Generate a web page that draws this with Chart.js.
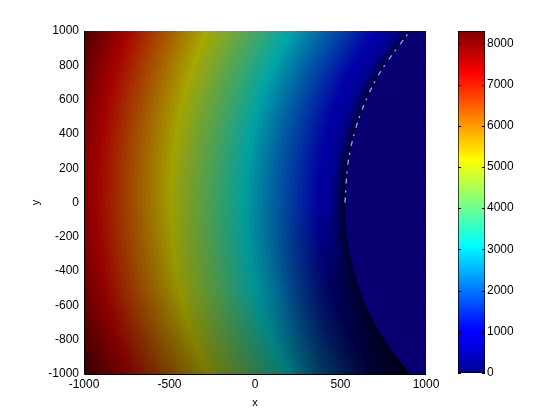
<!DOCTYPE html>
<html>
<head>
<meta charset="utf-8">
<script src="https://cdn.jsdelivr.net/npm/chart.js@4.4.1/dist/chart.umd.min.js"></script>
<style>
body { margin: 0; background: #fff; }
#wrap { position: relative; width: 560px; height: 420px; }
#main { position: absolute; left: 0; top: 0; }
#cbar { position: absolute; left: 440px; top: 0; }
</style>
</head>
<body>
<div id="wrap">
<canvas id="main" width="560" height="420"></canvas>
<canvas id="cbar" width="120" height="420"></canvas>
</div>
<script>
const sampleY = [-1000, -750, -500, -250, 0, 250, 500, 750, 1000];
// contour levels (value on the left of each line is above the level)
const levels = [300, 400, 500, 625, 750, 875, 1000, 1125, 1250, 1375, 1500, 1625, 1750, 1875,
    2000, 2125, 2250, 2375, 2500, 2625, 2750, 2875, 3000, 3125, 3250, 3375, 3500, 3625, 3750,
    3875, 4000, 4125, 4250, 4375, 4500, 4625, 4750, 4875, 5000, 5125, 5250, 5375, 5500, 5625,
    5750, 5875, 6000, 6125, 6250, 6375, 6500, 6625, 6750, 6875, 7000, 7125, 7250, 7375, 7500,
    7625, 7750, 7875, 8000, 8125, 8250];
// x of each contour at sampleY
const isoX = [
    [906, 726, 611, 547, 526, 547, 611, 726, 906],
    [878, 702, 589, 526, 505, 526, 589, 702, 878],
    [851, 678, 567, 505, 484, 505, 567, 678, 851],
    [817, 649, 540, 479, 458, 479, 540, 649, 817],
    [783, 619, 512, 452, 432, 452, 512, 619, 783],
    [750, 590, 485, 426, 406, 426, 485, 590, 750],
    [717, 560, 458, 399, 380, 399, 458, 560, 717],
    [685, 531, 431, 373, 354, 373, 431, 531, 685],
    [652, 502, 403, 347, 328, 347, 403, 502, 652],
    [621, 473, 376, 321, 302, 321, 376, 473, 621],
    [589, 444, 349, 294, 276, 294, 349, 444, 589],
    [558, 416, 322, 268, 250, 268, 322, 416, 558],
    [526, 387, 294, 241, 224, 241, 294, 387, 526],
    [495, 359, 267, 215, 198, 215, 267, 359, 495],
    [464, 330, 240, 189, 172, 189, 240, 330, 464],
    [433, 302, 213, 163, 146, 163, 213, 302, 433],
    [402, 273, 186, 136, 120, 136, 186, 273, 402],
    [372, 245, 159, 110, 94, 110, 159, 245, 372],
    [341, 217, 132, 84, 68, 84, 132, 217, 341],
    [311, 189, 106, 58, 42, 58, 106, 189, 311],
    [281, 160, 79, 31, 16, 31, 79, 160, 281],
    [251, 132, 52, 5, -10, 5, 52, 132, 251],
    [221, 104, 25, -21, -37, -21, 25, 104, 221],
    [192, 77, -2, -48, -63, -48, -2, 77, 192],
    [162, 49, -29, -74, -89, -74, -29, 49, 162],
    [133, 21, -56, -100, -115, -100, -56, 21, 133],
    [103, -7, -82, -126, -141, -126, -82, -7, 103],
    [74, -35, -109, -153, -167, -153, -109, -35, 74],
    [45, -63, -136, -179, -193, -179, -136, -63, 45],
    [16, -91, -163, -205, -219, -205, -163, -91, 16],
    [-13, -118, -189, -231, -245, -231, -189, -118, -13],
    [-42, -146, -216, -257, -271, -257, -216, -146, -42],
    [-71, -173, -243, -283, -297, -283, -243, -173, -71],
    [-100, -201, -270, -310, -323, -310, -270, -201, -100],
    [-129, -228, -296, -336, -349, -336, -296, -228, -129],
    [-158, -256, -323, -362, -375, -362, -323, -256, -158],
    [-186, -283, -349, -388, -401, -388, -349, -283, -186],
    [-215, -310, -376, -415, -427, -415, -376, -310, -215],
    [-243, -337, -402, -441, -453, -441, -402, -337, -243],
    [-272, -365, -429, -467, -479, -467, -429, -365, -272],
    [-300, -392, -456, -493, -505, -493, -456, -392, -300],
    [-328, -419, -483, -519, -531, -519, -483, -419, -328],
    [-356, -446, -509, -545, -557, -545, -509, -446, -356],
    [-385, -474, -536, -572, -583, -572, -536, -474, -385],
    [-413, -501, -562, -598, -609, -598, -562, -501, -413],
    [-441, -528, -589, -624, -636, -624, -589, -528, -441],
    [-469, -555, -615, -650, -662, -650, -615, -555, -469],
    [-497, -582, -642, -676, -688, -676, -642, -582, -497],
    [-525, -609, -668, -702, -714, -702, -668, -609, -525],
    [-553, -636, -695, -729, -740, -729, -695, -636, -553],
    [-581, -663, -721, -755, -766, -755, -721, -663, -581],
    [-609, -690, -748, -781, -792, -781, -748, -690, -609],
    [-637, -717, -774, -807, -818, -807, -774, -717, -637],
    [-665, -744, -800, -833, -844, -833, -800, -744, -665],
    [-692, -771, -826, -859, -870, -859, -826, -771, -692],
    [-720, -798, -853, -885, -896, -885, -853, -798, -720],
    [-748, -825, -879, -911, -922, -911, -879, -825, -748],
    [-776, -852, -906, -938, -948, -938, -906, -852, -776],
    [-803, -879, -932, -964, -974, -964, -932, -879, -803],
    [-831, -906, -959, -990, -1000, -990, -959, -906, -831],
    [-858, -933, -985, -1016, -1026, -1016, -985, -933, -858],
    [-886, -960, -1012, -1042, -1052, -1042, -1012, -960, -886],
    [-913, -986, -1038, -1068, -1078, -1068, -1038, -986, -913],
    [-941, -1013, -1065, -1094, -1104, -1094, -1065, -1013, -941],
    [-968, -1040, -1091, -1120, -1130, -1120, -1091, -1040, -968]
];
// light glitch line along the edge of the zero region (upper half only)
const edgeY = [0, 250, 500, 750, 1000];
const edgeX = [526, 547, 611, 726, 906];
const cbMax = 8300;
const cbTickValues = [0, 1000, 2000, 3000, 4000, 5000, 6000, 7000, 8000];

Chart.defaults.font.family = "'Liberation Sans', Arial, sans-serif";
Chart.defaults.font.size = 12;
Chart.defaults.color = "#000";

function jet(t) {
    t = Math.max(0, Math.min(1, t));
    const c = v => Math.max(0, Math.min(1, v));
    return [c(Math.min(4 * t - 1.5, -4 * t + 4.5)),
        c(Math.min(4 * t - 0.5, -4 * t + 3.5)),
        c(Math.min(4 * t + 0.5625, -4 * t + 2.5))];
}
function rgb(c, f) {
    return `rgb(${Math.round(c[0] * 255 * f)},${Math.round(c[1] * 255 * f)},${Math.round(c[2] * 255 * f)})`;
}

// the surface is lit from above: darker toward the bottom and close to the zero edge
const fillCache = {};
function bandFill(chart, mid) {
    const a = chart.chartArea;
    if (!a) return null;
    const key = mid + "_" + a.top + "_" + a.bottom;
    if (fillCache[key]) return fillCache[key];
    const col = jet(mid / cbMax);
    const e = mid - levels[0];
    const fTop = 0.66 * (0.6 + 0.4 * Math.min(1, e / 240));
    const fMid = 0.62 * (0.4 + 0.6 * Math.min(1, e / 340));
    const fLow = 0.25 + 0.33 * Math.min(1, e / 2160);
    const fBot = Math.min(0.47, 0.1 + 0.000135 * e);
    const g = chart.ctx.createLinearGradient(0, a.top, 0, a.bottom);
    g.addColorStop(0, rgb(col, fTop));
    g.addColorStop(0.5, rgb(col, fMid));
    g.addColorStop(0.75, rgb(col, fLow));
    g.addColorStop(1, rgb(col, fBot));
    fillCache[key] = g;
    return g;
}

const datasets = [{
    data: edgeY.map((y, k) => ({ x: edgeX[k], y: y })),
    borderColor: "rgba(205,205,255,0.8)",
    borderWidth: 1.3,
    borderDash: [5, 5, 2, 7],
    fill: false,
    pointRadius: 0
}];
for (let i = levels.length - 1; i >= 0; i--) {
    const hi = i + 1 < levels.length ? levels[i + 1] : cbMax;
    const mid = (levels[i] + hi) / 2;
    datasets.push({
        data: sampleY.map((y, k) => ({ x: isoX[i][k], y: y })),
        fill: { value: -1000 },
        backgroundColor: ctx => bandFill(ctx.chart, mid),
        borderColor: "rgba(0,0,0,0)",
        borderWidth: 0,
        pointRadius: 0
    });
}

const framePlugin = {
    id: "frame",
    beforeDraw(chart) {
        const { ctx, chartArea: a } = chart;
        ctx.save();
        ctx.fillStyle = "rgb(8,0,112)";
        ctx.fillRect(a.left, a.top, a.right - a.left, a.bottom - a.top);
        ctx.restore();
    },
    afterDatasetsDraw(chart) {
        const { ctx, chartArea: a } = chart;
        ctx.save();
        ctx.strokeStyle = "#000";
        ctx.lineWidth = 1;
        ctx.beginPath();
        ctx.moveTo(a.left + 0.5, a.top);
        ctx.lineTo(a.left + 0.5, a.bottom + 0.5);
        ctx.lineTo(a.right, a.bottom + 0.5);
        ctx.stroke();
        ctx.setLineDash([1, 2]);
        ctx.beginPath();
        ctx.moveTo(a.right - 0.5, a.top);
        ctx.lineTo(a.right - 0.5, a.bottom);
        ctx.stroke();
        ctx.restore();
    }
};

new Chart(document.getElementById("main"), {
    type: "line",
    data: { datasets: datasets },
    options: {
        indexAxis: "y",
        responsive: false,
        animation: false,
        events: [],
        layout: { padding: { left: 0, right: 134, top: 31, bottom: 0 } },
        elements: { line: { cubicInterpolationMode: "monotone", capBezierPoints: false } },
        scales: {
            x: {
                type: "linear", min: -1000, max: 1000,
                ticks: { stepSize: 500, padding: 3, callback: v => String(v) },
                grid: { display: false, drawTicks: false },
                border: { display: false },
                title: { display: true, text: "x", font: { size: 11 }, padding: { top: 0, bottom: 10 } },
                afterFit: s => { s.height = 46; }
            },
            y: {
                type: "linear", min: -1000, max: 1000,
                ticks: { stepSize: 200, padding: 5, callback: v => String(v) },
                grid: { display: false, drawTicks: false },
                border: { display: false },
                title: { display: true, text: "y", font: { size: 11 }, padding: { top: 29, bottom: 0 } },
                afterFit: s => { s.width = 84; }
            }
        },
        plugins: { legend: { display: false }, tooltip: { enabled: false } }
    },
    plugins: [framePlugin]
});

// colour bar
function jetGradient(chart) {
    const a = chart.chartArea;
    if (!a) return null;
    const g = chart.ctx.createLinearGradient(0, a.bottom, 0, a.top);
    for (let i = 0; i <= 40; i++) {
        g.addColorStop(i / 40, rgb(jet(i / 40), 1));
    }
    return g;
}
const cbTicks = {
    id: "cbTicks",
    afterDatasetsDraw(chart) {
        const { ctx, chartArea: a } = chart;
        const sc = chart.scales.y;
        ctx.save();
        ctx.strokeStyle = "#000";
        ctx.lineWidth = 1;
        ctx.beginPath();
        sc.ticks.forEach(t => {
            const y = Math.round(sc.getPixelForValue(t.value)) + 0.5;
            ctx.moveTo(a.left, y); ctx.lineTo(a.left + 3, y);
            ctx.moveTo(a.right - 3, y); ctx.lineTo(a.right, y);
        });
        ctx.stroke();
        ctx.restore();
    }
};
new Chart(document.getElementById("cbar"), {
    type: "bar",
    data: {
        labels: [""],
        datasets: [{
            data: [[0, cbMax]],
            backgroundColor: ctx => jetGradient(ctx.chart),
            borderColor: "#000",
            borderWidth: 1,
            borderSkipped: false,
            barPercentage: 1,
            categoryPercentage: 1
        }]
    },
    options: {
        responsive: false,
        animation: false,
        events: [],
        layout: { padding: { left: 18, right: 0, top: 31, bottom: 47 } },
        scales: {
            x: { display: false },
            y: {
                position: "right", min: 0, max: cbMax,
                afterBuildTicks: s => { s.ticks = cbTickValues.map(v => ({ value: v })); },
                ticks: { padding: 2, callback: v => String(v) },
                grid: { display: false, drawTicks: false },
                border: { display: false },
                afterFit: s => { s.width = 75; }
            }
        },
        plugins: { legend: { display: false }, tooltip: { enabled: false } }
    },
    plugins: [cbTicks]
});
</script>
</body>
</html>
